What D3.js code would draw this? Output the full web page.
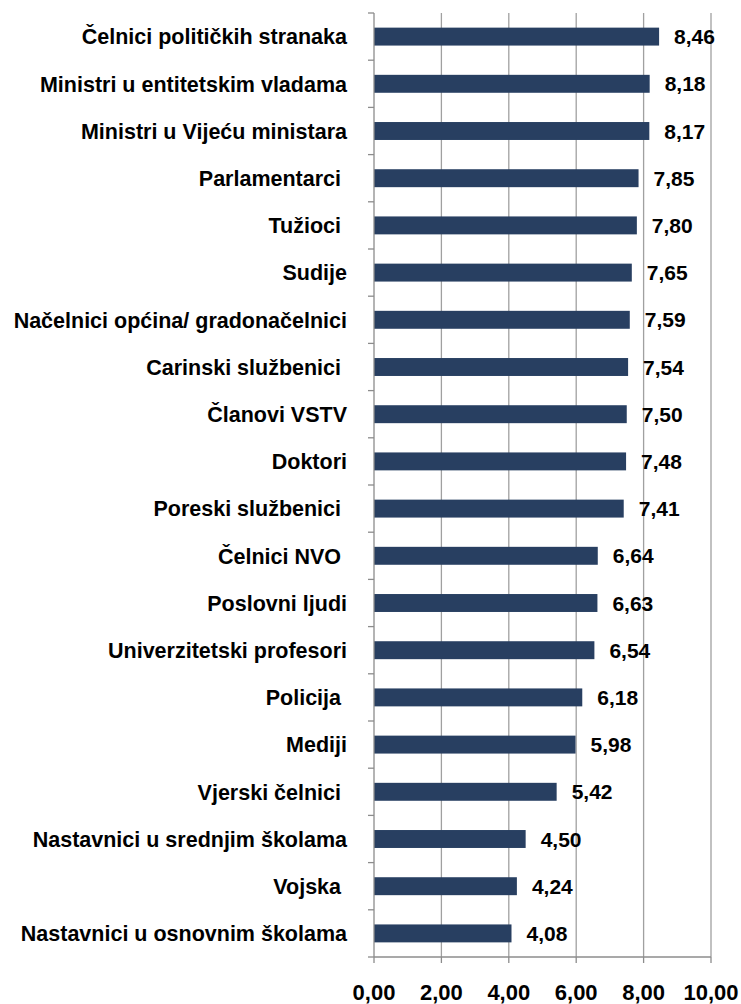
<meta charset="utf-8">
<style>
  body { margin: 0; background: #fff; }
  text { font-family: "Liberation Sans", Arial, sans-serif; font-weight: bold; fill: #000; }
</style>
<svg width="741" height="1004"></svg>
<script src="https://d3js.org/d3.v7.min.js"></script>
<script>
// chart values
var categories = [
  "Čelnici političkih stranaka",
  "Ministri u entitetskim vladama",
  "Ministri u Vijeću ministara",
  "Parlamentarci ",
  "Tužioci ",
  "Sudije",
  "Načelnici općina/ gradonačelnici",
  "Carinski službenici ",
  "Članovi VSTV",
  "Doktori",
  "Poreski službenici ",
  "Čelnici NVO ",
  "Poslovni ljudi",
  "Univerzitetski profesori",
  "Policija ",
  "Mediji",
  "Vjerski čelnici ",
  "Nastavnici u srednjim školama",
  "Vojska ",
  "Nastavnici u osnovnim školama"
];
var values = [8.46, 8.18, 8.17, 7.85, 7.80, 7.65, 7.59, 7.54, 7.50, 7.48,
              7.41, 6.64, 6.63, 6.54, 6.18, 5.98, 5.42, 4.50, 4.24, 4.08];
var tickValues = [0, 2, 4, 6, 8, 10];

var data = categories.map(function(c, i) { return { name: c, value: values[i] }; });

var svg = d3.select("svg");
var plotLeft = 374, plotRight = 711, plotTop = 13, plotBottom = 957;

var fmt = function(v) { return d3.format(".2f")(v).replace(".", ","); };

var x = d3.scaleLinear().domain([0, 10]).range([plotLeft, plotRight]);
var y = d3.scaleBand()
  .domain(categories)
  .range([plotTop, plotBottom])
  .paddingInner(0.62)
  .paddingOuter(0.31);

// gridlines
svg.append("g")
  .selectAll("line")
  .data(tickValues.slice(1))
  .enter().append("line")
    .attr("x1", function(d) { return x(d); })
    .attr("x2", function(d) { return x(d); })
    .attr("y1", plotTop)
    .attr("y2", plotBottom)
    .attr("stroke", "#a0a0a0")
    .attr("stroke-width", 1.3);

// bars
svg.append("g")
  .selectAll("rect")
  .data(data)
  .enter().append("rect")
    .attr("x", x(0))
    .attr("y", function(d) { return y(d.name); })
    .attr("width", function(d) { return x(d.value) - x(0); })
    .attr("height", y.bandwidth())
    .attr("fill", "#283f61");

// value labels
svg.append("g")
  .selectAll("text")
  .data(data)
  .enter().append("text")
    .attr("x", function(d) { return x(d.value) + 15; })
    .attr("y", function(d) { return y(d.name) + y.bandwidth() / 2; })
    .attr("dy", "0.36em")
    .attr("font-size", "21px")
    .text(function(d) { return fmt(d.value); });

// left axis with ticks at category boundaries
var boundaries = d3.range(categories.length + 1).map(function(i) {
  return plotTop + i * (plotBottom - plotTop) / categories.length;
});
svg.append("line")
  .attr("x1", plotLeft).attr("x2", plotLeft)
  .attr("y1", plotTop).attr("y2", plotBottom)
  .attr("stroke", "#8c8c8c").attr("stroke-width", 1.3);
svg.append("g")
  .selectAll("line")
  .data(boundaries)
  .enter().append("line")
    .attr("x1", plotLeft - 6).attr("x2", plotLeft)
    .attr("y1", function(d) { return d; })
    .attr("y2", function(d) { return d; })
    .attr("stroke", "#8c8c8c").attr("stroke-width", 1.3);

// category labels
svg.append("g")
  .selectAll("text")
  .data(data)
  .enter().append("text")
    .attr("x", 347)
    .attr("y", function(d) { return y(d.name) + y.bandwidth() / 2; })
    .attr("dy", "0.36em")
    .attr("text-anchor", "end")
    .attr("font-size", "21.5px")
    .style("white-space", "pre")
    .text(function(d) { return d.name; });

// bottom axis
svg.append("line")
  .attr("x1", plotLeft).attr("x2", plotRight)
  .attr("y1", plotBottom).attr("y2", plotBottom)
  .attr("stroke", "#8c8c8c").attr("stroke-width", 1.3);
svg.append("g")
  .selectAll("line")
  .data(tickValues)
  .enter().append("line")
    .attr("x1", function(d) { return x(d); })
    .attr("x2", function(d) { return x(d); })
    .attr("y1", plotBottom).attr("y2", plotBottom + 6)
    .attr("stroke", "#8c8c8c").attr("stroke-width", 1.3);
svg.append("g")
  .selectAll("text")
  .data(tickValues)
  .enter().append("text")
    .attr("x", function(d) { return x(d); })
    .attr("y", 1000)
    .attr("text-anchor", "middle")
    .attr("font-size", "22px")
    .text(function(d) { return fmt(d); });
</script>
